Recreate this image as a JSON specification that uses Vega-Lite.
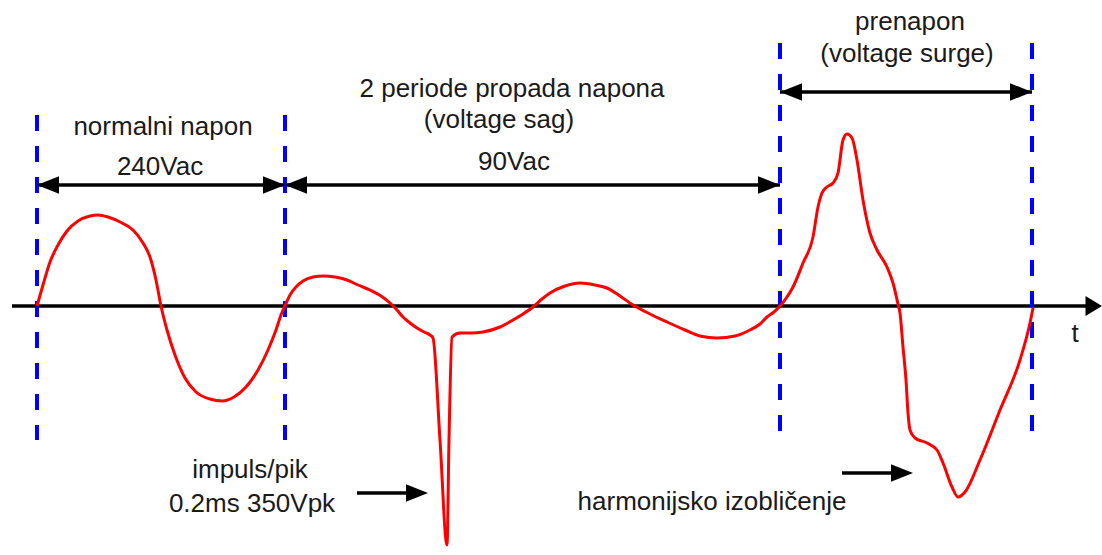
{
  "$schema": "https://vega.github.io/schema/vega-lite/v6.json",
  "width": 1102,
  "height": 555,
  "autosize": {"type": "fit", "contains": "padding"},
  "padding": 0,
  "background": "white",
  "config": {"view": {"stroke": null}},
  "datasets": {
    "wave": [
      {"t": 37, "v": 0}, {"t": 43, "v": 21}, {"t": 50, "v": 44}, {"t": 58, "v": 61}, {"t": 67, "v": 75},
      {"t": 78, "v": 85}, {"t": 90, "v": 90}, {"t": 98, "v": 91}, {"t": 108, "v": 89}, {"t": 120, "v": 84},
      {"t": 133, "v": 76}, {"t": 143, "v": 63}, {"t": 150, "v": 49}, {"t": 156, "v": 26}, {"t": 161, "v": 0},
      {"t": 167, "v": -24}, {"t": 175, "v": -49}, {"t": 185, "v": -72}, {"t": 196, "v": -86}, {"t": 210, "v": -93},
      {"t": 222, "v": -95}, {"t": 234, "v": -91}, {"t": 246, "v": -81}, {"t": 258, "v": -64}, {"t": 268, "v": -44},
      {"t": 276, "v": -24}, {"t": 281, "v": -9}, {"t": 285, "v": 0},
      {"t": 290, "v": 11}, {"t": 296, "v": 19}, {"t": 303, "v": 25}, {"t": 313, "v": 29}, {"t": 323, "v": 30},
      {"t": 335, "v": 29}, {"t": 347, "v": 26}, {"t": 358, "v": 21}, {"t": 370, "v": 16}, {"t": 381, "v": 10},
      {"t": 390, "v": 3}, {"t": 397, "v": -4}, {"t": 403, "v": -11}, {"t": 410, "v": -17}, {"t": 417, "v": -22},
      {"t": 424, "v": -26}, {"t": 430, "v": -29}, {"t": 433, "v": -32}, {"t": 440, "v": -134}, {"t": 447, "v": -239},
      {"t": 449, "v": -134}, {"t": 452, "v": -31}, {"t": 460, "v": -27}, {"t": 472, "v": -27}, {"t": 483, "v": -26},
      {"t": 500, "v": -21}, {"t": 513, "v": -14}, {"t": 523, "v": -8}, {"t": 533, "v": -1}, {"t": 542, "v": 7},
      {"t": 550, "v": 13}, {"t": 565, "v": 20}, {"t": 580, "v": 23}, {"t": 595, "v": 21}, {"t": 607, "v": 18},
      {"t": 620, "v": 10}, {"t": 633, "v": 1}, {"t": 650, "v": -8}, {"t": 667, "v": -16}, {"t": 685, "v": -24},
      {"t": 700, "v": -30}, {"t": 717, "v": -32}, {"t": 735, "v": -30}, {"t": 750, "v": -24}, {"t": 760, "v": -18},
      {"t": 767, "v": -11}, {"t": 774, "v": -6}, {"t": 780, "v": 0},
      {"t": 787, "v": 9}, {"t": 793, "v": 19}, {"t": 803, "v": 43}, {"t": 813, "v": 69}, {"t": 818, "v": 99},
      {"t": 822, "v": 113}, {"t": 827, "v": 119}, {"t": 833, "v": 123}, {"t": 838, "v": 133}, {"t": 843, "v": 166},
      {"t": 847, "v": 172}, {"t": 852, "v": 168}, {"t": 857, "v": 146}, {"t": 863, "v": 106}, {"t": 870, "v": 73},
      {"t": 877, "v": 56}, {"t": 887, "v": 39}, {"t": 893, "v": 23}, {"t": 898, "v": 2}, {"t": 900, "v": -7},
      {"t": 903, "v": -41}, {"t": 906, "v": -74}, {"t": 908, "v": -107}, {"t": 910, "v": -124}, {"t": 915, "v": -132},
      {"t": 927, "v": -137}, {"t": 937, "v": -144}, {"t": 943, "v": -157}, {"t": 952, "v": -181}, {"t": 958, "v": -191},
      {"t": 965, "v": -186}, {"t": 980, "v": -154}, {"t": 1000, "v": -104}, {"t": 1020, "v": -54}, {"t": 1030, "v": -17},
      {"t": 1033, "v": -2}
    ],
    "hlines": [
      {"t": 12, "t2": 1092, "v": 0},
      {"t": 37, "t2": 285, "v": 121},
      {"t": 285, "t2": 780, "v": 121},
      {"t": 780, "t2": 1032, "v": 214},
      {"t": 357, "t2": 414, "v": -187},
      {"t": 842, "t2": 899, "v": -167}
    ],
    "vlines": [
      {"t": 37, "v": 191, "v2": -134},
      {"t": 285, "v": 191, "v2": -134},
      {"t": 780, "v": 263, "v2": -132},
      {"t": 1032, "v": 263, "v2": -132}
    ],
    "heads": [
      {"t": 37, "v": 121, "dir": "left"},
      {"t": 285, "v": 121, "dir": "right"},
      {"t": 285, "v": 121, "dir": "left"},
      {"t": 780, "v": 121, "dir": "right"},
      {"t": 780, "v": 214, "dir": "left"},
      {"t": 1032, "v": 214, "dir": "right"},
      {"t": 428, "v": -187, "dir": "right"},
      {"t": 913, "v": -167, "dir": "right"},
      {"t": 1102, "v": 0, "dir": "axis"}
    ],
    "labels": [
      {"t": 163, "v": 171, "label": "normalni napon"},
      {"t": 160, "v": 131, "label": "240Vac"},
      {"t": 512, "v": 209, "label": "2 periode propada napona"},
      {"t": 499, "v": 178, "label": "(voltage sag)"},
      {"t": 514, "v": 136, "label": "90Vac"},
      {"t": 910, "v": 276, "label": "prenapon"},
      {"t": 907, "v": 244, "label": "(voltage surge)"},
      {"t": 1075, "v": -36, "label": "t"},
      {"t": 250, "v": -172, "label": "impuls/pik"},
      {"t": 252, "v": -206, "label": "0.2ms 350Vpk"},
      {"t": 712, "v": -204, "label": "harmonijsko izobličenje"}
    ]
  },
  "encoding": {
    "x": {"field": "t", "type": "quantitative", "scale": {"domain": [0, 1102], "nice": false, "zero": false}, "axis": null},
    "y": {"field": "v", "type": "quantitative", "scale": {"domain": [-249, 306], "nice": false, "zero": false}, "axis": null}
  },
  "layer": [
    {
      "data": {"name": "hlines"},
      "mark": {"type": "rule", "color": "#000000", "strokeWidth": 3.5, "strokeCap": "butt"},
      "encoding": {"x2": {"field": "t2"}}
    },
    {
      "data": {"name": "vlines"},
      "mark": {"type": "rule", "color": "#0000ff", "strokeWidth": 4, "strokeDash": [16, 15], "strokeCap": "butt"},
      "encoding": {"y2": {"field": "v2"}}
    },
    {
      "data": {"name": "heads"},
      "mark": {"type": "point", "filled": true, "color": "#000000", "opacity": 1, "strokeWidth": 0},
      "encoding": {
        "shape": {
          "field": "dir",
          "type": "nominal",
          "scale": {"domain": ["left", "right", "axis"], "range": ["M0,0L2,-0.8L2,0.8Z", "M0,0L-2,-0.8L-2,0.8Z", "M0,0L-1.5,-0.9L-1.5,0.9Z"]},
          "legend": null
        },
        "size": {"value": 484}
      }
    },
    {
      "data": {"name": "wave"},
      "mark": {"type": "line", "color": "#ff0000", "strokeWidth": 3, "interpolate": "monotone"},
      "encoding": {}
    },
    {
      "data": {"name": "labels"},
      "mark": {"type": "text", "font": "Liberation Sans", "fontSize": 26, "color": "#1a1a1a", "align": "center", "baseline": "alphabetic"},
      "encoding": {"text": {"field": "label"}}
    }
  ]
}
